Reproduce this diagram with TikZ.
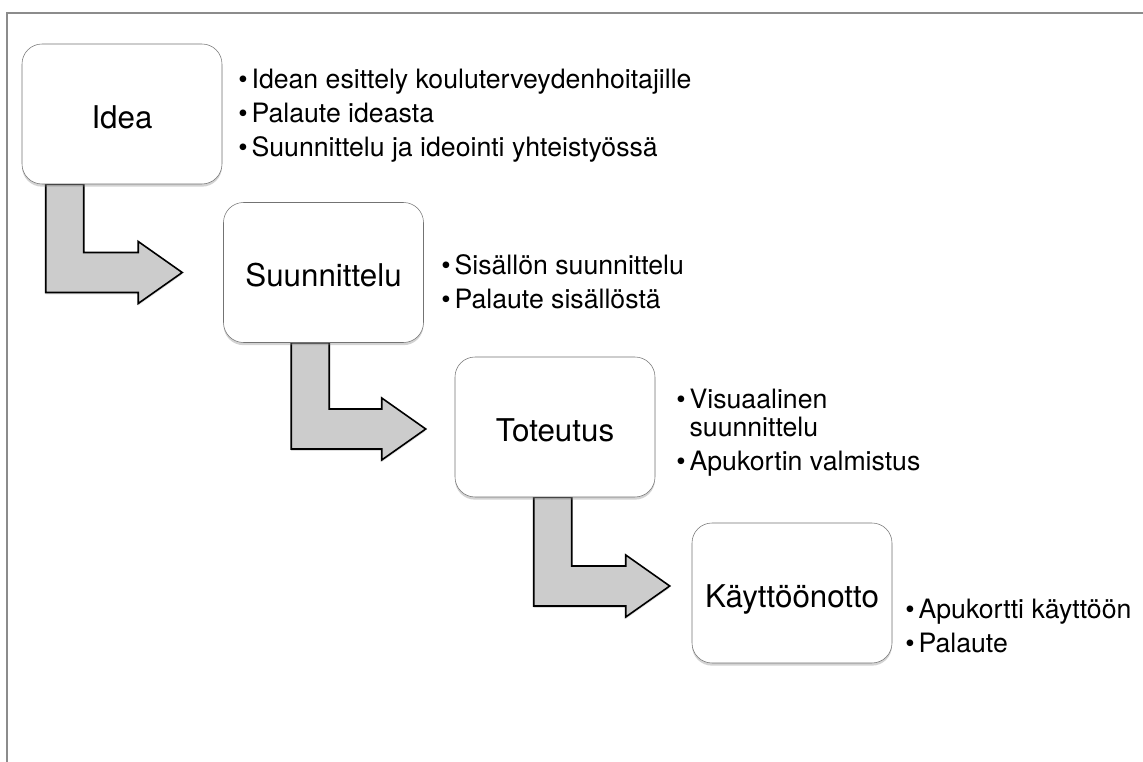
\documentclass[tikz,border=0pt]{standalone}
\usepackage{fontspec}
\setmainfont{TeX Gyre Heros}
\usepackage{tikz}
\usetikzlibrary{calc,shadows,backgrounds}

\newcommand{\bul}{\makebox[10pt][l]{\textbullet}}
\newcommand{\bentarrow}[2]{%
\draw[blockarrow] #1 -- ++(38,0) |- ($#2+(-44,-20)$) -- ++(0,-11) -- #2 -- ++(-44,31) -- ++(0,-11) -| #1 -- cycle;}

\begin{document}
\begin{tikzpicture}[
x=0.75pt,y=-0.75pt,
box/.style={draw=black!55,fill=white,rounded corners=15pt,minimum width=150pt,minimum height=105pt,text height=21.5pt,text depth=0pt,font=\fontsize{23.5}{28}\selectfont,drop shadow={shadow xshift=0pt,shadow yshift=-2pt,opacity=.35}},
list/.style={anchor=north west,inner sep=0pt,align=left,font=\fontsize{20}{21}\selectfont},
blockarrow/.style={draw=black,line width=1.2pt,fill=black!20,drop shadow={shadow xshift=0pt,shadow yshift=-1.5pt,opacity=.25}},
frame/.style={draw=black!45,line width=1.5pt}
]
\useasboundingbox (0,0) rectangle (1143,762);
\draw[frame] (7,762) -- (7,13) -- (1143,13);

\node[box] (idea) at (122,114) {Idea};
\node[box] (suun) at (323.5,272.5) {Suunnittelu};
\node[box] (tot) at (555,427) {Toteutus};
\node[box] (kay) at (792,593) {Käyttöönotto};

\node[list] (idealist) at (238,69) {\bul Idean esittely kouluterveydenhoitajille\\[4.5pt]\bul Palaute ideasta\\[4.5pt]\bul Suunnittelu ja ideointi yhteistyössä};
\node[list] (suunlist) at (441,254) {\bul Sisällön suunnittelu\\[4.5pt]\bul Palaute sisällöstä};
\node[list] (totlist) at (676,389) {\bul Visuaalinen\\\hspace*{10pt}suunnittelu\\[4.5pt]\bul Apukortin valmistus};
\node[list] (kaylist) at (905,599) {\bul Apukortti käyttöön\\[4.5pt]\bul Palaute};

\begin{scope}[on background layer]
\bentarrow{($(idea.south west)+(24,0)$)}{($(suun.west)+(-41,0)$)}
\bentarrow{($(suun.south west)+(68,0)$)}{($(tot.west)+(-29,2)$)}
\bentarrow{($(tot.south west)+(79,0)$)}{($(kay.west)+(-22,-7)$)}
\end{scope}
\end{tikzpicture}
\end{document}
